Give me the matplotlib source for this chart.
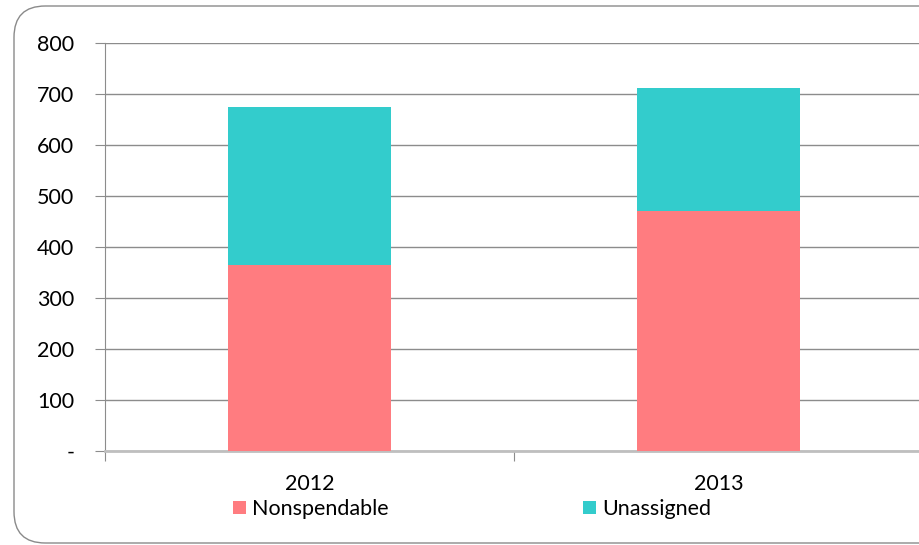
import matplotlib
matplotlib.use("Agg")
import matplotlib.pyplot as plt
from matplotlib.patches import FancyBboxPatch
import numpy as np

categories = ["2012", "2013"]
nonspendable = [363, 470]
unassigned = [311, 242]
yticks = [0, 100, 200, 300, 400, 500, 600, 700, 800]
ytick_labels = ["-", "100", "200", "300", "400", "500", "600", "700", "800"]

plt.rcParams['font.family'] = ['Lato', 'DejaVu Sans']
FS = 15.5

fig = plt.figure(figsize=(9.2, 5.45), dpi=100)

# rounded border
border = FancyBboxPatch((14/920, 2/545), 1.2, 1 - 8/545, boxstyle="round,pad=0,rounding_size=0.034",
                        transform=fig.transFigure, fill=False, edgecolor="#8a8a8a", linewidth=1.0,
                        mutation_aspect=920/545)
fig.patches.append(border)

ax = fig.add_axes([105/920, 1 - 450.5/545, 818/920, (450.5 - 42.7)/545])

x = np.arange(len(categories))
w = 0.4
ax.bar(x, nonspendable, width=w, color="#FF7C80", label="Nonspendable", zorder=3)
ax.bar(x, unassigned, width=w, bottom=nonspendable, color="#33CCCC", label="Unassigned", zorder=3)

ax.set_xlim(-0.5, 1.5)
ax.set_ylim(0, 800)
ax.set_yticks(yticks)
ax.set_yticklabels(ytick_labels, fontsize=FS)
ax.yaxis.grid(True, color="#8c8c8c", linewidth=1.0, zorder=0)
ax.set_axisbelow(True)

ax.set_xticks([-0.5, 0.5, 1.5])
ax.set_xticklabels([])
ax.set_xticks(x, minor=True)
ax.set_xticklabels(categories, minor=True, fontsize=FS)
ax.tick_params(axis='x', which='major', length=7, color="#8c8c8c", direction='out')
ax.tick_params(axis='x', which='minor', length=0, pad=17)
ax.tick_params(axis='y', length=7, color="#8c8c8c", pad=15)

for s in ["top", "right"]:
    ax.spines[s].set_visible(False)
ax.spines["left"].set_color("#8c8c8c")
ax.spines["bottom"].set_color("#bfbfbf")
ax.spines["bottom"].set_linewidth(2)

leg = fig.legend(loc="center left", bbox_to_anchor=(233/920, 1 - 509/545), ncol=2, frameon=False,
                 fontsize=FS, handlelength=0.6, handleheight=0.6, handletextpad=0.3,
                 columnspacing=9.0, borderpad=0, borderaxespad=0)

fig.savefig("out.png", dpi=100)
